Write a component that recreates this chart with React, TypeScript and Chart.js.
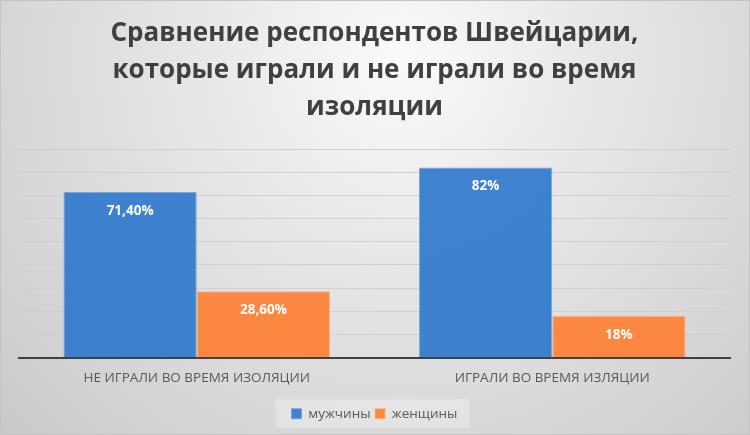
import React, { useEffect, useRef } from 'react';
import { Chart, registerables } from 'chart.js';

Chart.register(...registerables);

const titleLines = [
  'Сравнение респондентов Швейцарии,',
  'которые играли и не играли во время',
  'изоляции',
];
const categories = ['НЕ ИГРАЛИ ВО ВРЕМЯ ИЗОЛЯЦИИ', 'ИГРАЛИ ВО ВРЕМЯ ИЗЛЯЦИИ'];
const seriesNames = ['мужчины', 'женщины'];
const menValues = [71.4, 82];
const womenValues = [28.6, 18];
const menLabels = ['71,40%', '82%'];
const womenLabels = ['28,60%', '18%'];
const yMin = 0;
const yMax = 90;
const yStep = 10;

const FONT = '"Open Sans", "DejaVu Sans", sans-serif';

const dataLabelPlugin = {
  id: 'barValueLabels',
  afterDatasetsDraw(chart: any) {
    const ctx = chart.ctx;
    chart.data.datasets.forEach((ds: any, i: number) => {
      const meta = chart.getDatasetMeta(i);
      meta.data.forEach((bar: any, j: number) => {
        const text = ds.valueLabels[j];
        ctx.save();
        ctx.font = `bold 13.5px ${FONT}`;
        ctx.fillStyle = '#ffffff';
        ctx.textAlign = 'center';
        ctx.textBaseline = 'middle';
        ctx.fillText(text, bar.x, bar.y + 19);
        ctx.restore();
      });
    });
  },
};

const legendBgPlugin = {
  id: 'legendBg',
  beforeDraw(chart: any) {
    const lg = chart.legend;
    if (!lg || !lg.legendHitBoxes || !lg.legendHitBoxes.length) return;
    const boxes = lg.legendHitBoxes;
    const left = boxes[0].left - 16;
    const last = boxes[boxes.length - 1];
    const right = last.left + last.width + 12;
    const cy = boxes[0].top + boxes[0].height / 2;
    const ctx = chart.ctx;
    ctx.save();
    ctx.fillStyle = 'rgba(255,255,255,0.28)';
    ctx.fillRect(left, cy - 14.5, right - left, 29);
    ctx.restore();
  },
};

export default function App() {
  const canvasRef = useRef<HTMLCanvasElement | null>(null);

  useEffect(() => {
    if (!canvasRef.current) return;
    const chart = new Chart(canvasRef.current, {
      type: 'bar',
      data: {
        labels: categories,
        datasets: [
          {
            label: seriesNames[0],
            data: menValues,
            valueLabels: menLabels,
            backgroundColor: 'rgba(48,120,205,0.92)',
            borderColor: 'rgba(110,160,225,0.9)',
            borderWidth: 1,
          } as any,
          {
            label: seriesNames[1],
            data: womenValues,
            valueLabels: womenLabels,
            backgroundColor: 'rgba(255,128,52,0.92)',
            borderColor: 'rgba(255,175,125,0.9)',
            borderWidth: 1,
          } as any,
        ],
      },
      options: {
        responsive: false,
        animation: false,
        events: [],
        layout: { padding: { left: 19, right: 20, top: 0, bottom: 4.5 } },
        datasets: {
          bar: { categoryPercentage: 0.75, barPercentage: 1 },
        },
        scales: {
          x: {
            grid: { display: true, color: 'transparent', drawTicks: false },
            border: { display: true, color: '#404040', width: 2 },
            ticks: {
              color: '#595959',
              font: { family: FONT, size: 13.5 },
              padding: 13,
              maxRotation: 0,
            },
            afterFit: (scale: any) => {
              scale.height = 45;
            },
          },
          y: {
            min: yMin,
            max: yMax,
            ticks: { display: false, stepSize: yStep },
            grid: { color: '#d0d0d0', lineWidth: 1, drawTicks: false },
            border: { display: false },
          },
        },
        plugins: {
          title: {
            display: true,
            text: titleLines,
            color: '#404040',
            font: { family: FONT, size: 26, weight: 'bold', lineHeight: 37 / 26 },
            padding: { top: 15.5, bottom: 22.5 },
          },
          legend: {
            display: true,
            position: 'bottom',
            labels: {
              color: '#595959',
              font: { family: FONT, size: 13.5 },
              boxWidth: 10,
              boxHeight: 10,
              padding: 4.5,
            },
          },
          tooltip: { enabled: false },
        },
      } as any,
      plugins: [dataLabelPlugin, legendBgPlugin],
    });
    return () => chart.destroy();
  }, []);

  return (
    <div
      style={{
        position: 'absolute',
        left: 0,
        top: 0,
        width: 750,
        height: 435,
        background:
          'radial-gradient(ellipse 560px 560px at 400px 60px, #fafafa 0%, #e6e6e6 38%, #d6d6d6 72%, #c8c8c8 100%)',
        boxShadow: 'inset 0 0 0 1px #c4c4c4',
      }}
    >
      <canvas ref={canvasRef} width={750} height={435} style={{ display: 'block' }} />
    </div>
  );
}
